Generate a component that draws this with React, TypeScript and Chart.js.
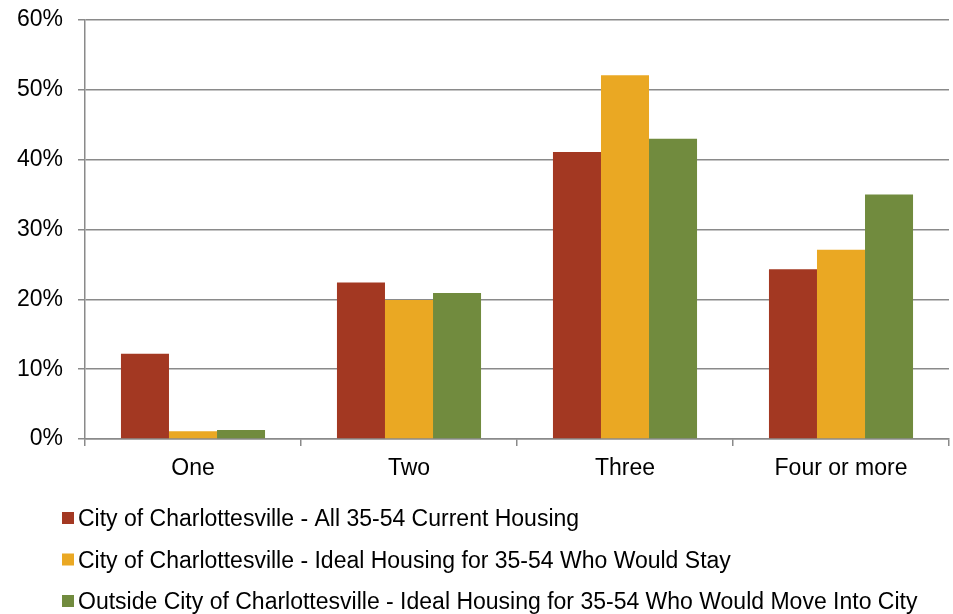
import React, { useEffect, useRef } from "react";
import { Chart, registerables } from "chart.js";

Chart.register(...registerables);

const categories = ["One", "Two", "Three", "Four or more"];
const seriesNames = [
  "City of Charlottesville - All 35-54 Current Housing",
  "City of Charlottesville - Ideal Housing for 35-54 Who Would Stay",
  "Outside City of Charlottesville - Ideal Housing for 35-54 Who Would Move Into City",
];
const currentHousing = [12.2, 22.4, 41.1, 24.3];
const idealStay = [1.1, 19.9, 52.1, 27.1];
const idealMoveIn = [1.3, 20.9, 43.0, 35.0];
const seriesColors = ["#A33822", "#EAA823", "#718B3E"];
const yTicksMax = 60;
const yTickStep = 10;

const FONT = "'Liberation Sans', Arial, sans-serif";
const FONT_SIZE = 23;

const legendPlugin = {
  id: "customLegend",
  afterDraw(chart: any) {
    const ctx = chart.ctx;
    const rows = [518, 559.5, 601];
    ctx.save();
    ctx.font = `${FONT_SIZE}px ${FONT}`;
    ctx.textBaseline = "middle";
    ctx.textAlign = "left";
    chart.data.datasets.forEach((ds: any, i: number) => {
      const y = rows[i];
      ctx.fillStyle = ds.backgroundColor;
      ctx.fillRect(62, y - 6, 12, 12);
      ctx.fillStyle = "#000";
      ctx.fillText(ds.label, 78, y + 2);
    });
    ctx.restore();
  },
};

export default function App() {
  const ref = useRef<HTMLCanvasElement>(null);
  useEffect(() => {
    document.body.style.margin = "0";
    const canvas = ref.current!;
    const data = [currentHousing, idealStay, idealMoveIn];
    const chart = new Chart(canvas, {
      type: "bar",
      data: {
        labels: categories,
        datasets: data.map((d, i) => ({
          label: seriesNames[i],
          data: d,
          backgroundColor: seriesColors[i],
          borderWidth: 0,
          categoryPercentage: 0.667,
          barPercentage: 1,
        })),
      },
      options: {
        responsive: false,
        animation: false,
        devicePixelRatio: 1,
        layout: { padding: { top: 20, right: 4, bottom: 125, left: 0 } },
        plugins: {
          legend: { display: false },
          tooltip: { enabled: false },
        },
        scales: {
          x: {
            grid: {
              offset: true,
              drawOnChartArea: false,
              drawTicks: true,
              tickLength: 7,
              color: "#8a8a8a",
              lineWidth: 1.5,
            },
            border: { color: "#8a8a8a", width: 1.5 },
            ticks: {
              font: { family: FONT, size: FONT_SIZE },
              color: "#000",
              padding: 9,
            },
            afterFit: (s: any) => {
              s.height = 50;
              s.paddingLeft = 0;
              s.paddingRight = 0;
            },
          },
          y: {
            min: 0,
            max: yTicksMax,
            grid: {
              color: "#8a8a8a",
              lineWidth: 1.5,
              tickLength: 7,
              drawTicks: true,
            },
            border: { color: "#8a8a8a", width: 1.5 },
            ticks: {
              stepSize: yTickStep,
              font: { family: FONT, size: FONT_SIZE },
              color: "#000",
              padding: 15,
              callback: (v: any) => `${v}%`,
            },
            afterFit: (s: any) => {
              s.width = 85;
              s.paddingTop = 0;
              s.paddingBottom = 0;
            },
          },
        },
      },
      plugins: [legendPlugin],
    });
    return () => chart.destroy();
  }, []);
  return (
    <div style={{ width: 953, height: 614 }}>
      <canvas ref={ref} width={953} height={614} />
    </div>
  );
}
